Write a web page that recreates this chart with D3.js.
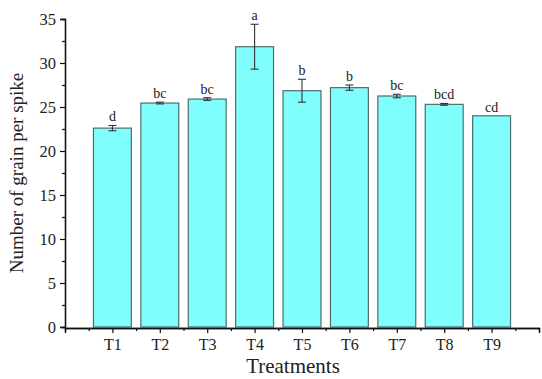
<!DOCTYPE html>
<html>
<head>
<meta charset="utf-8">
<script src="https://cdn.jsdelivr.net/npm/d3@7"></script>
<style>
  html, body { margin: 0; padding: 0; background: #fff; }
  svg { display: block; }
  text { font-family: "Liberation Serif", "Times New Roman", serif; fill: #222; }
</style>
</head>
<body>
<svg id="chart" width="542" height="379"></svg>
<script>
// Treatments and mean grain counts with their standard errors
const treatments = ["T1", "T2", "T3", "T4", "T5", "T6", "T7", "T8", "T9"];
const grainMeans = [22.6, 25.45, 25.9, 31.85, 26.85, 27.2, 26.25, 25.3, 24.0];
const grainErrors = [0.3, 0.1, 0.15, 2.55, 1.3, 0.3, 0.2, 0.1, 0.0];
const groupLetters = ["d", "bc", "bc", "a", "b", "b", "bc", "bcd", "cd"];
const yTicks = [0, 5, 10, 15, 20, 25, 30, 35];

const svg = d3.select("#chart");
const margin = { left: 65, right: 2, top: 19, bottom: 52 };

// positional scale: categories sit on integers 1..9 inside [0, 10]
const x = d3.scaleLinear().domain([0, 10]).range([margin.left, 539]);
const y = d3.scaleLinear().domain([0, 35]).range([327, margin.top]);
const step = x(1) - x(0);
const barW = step * 0.8;

// bars
svg.append("g").selectAll("rect")
  .data(treatments)
  .join("rect")
  .attr("x", (d, i) => x(i + 1) - barW / 2)
  .attr("width", barW)
  .attr("y", (d, i) => y(grainMeans[i]))
  .attr("height", (d, i) => y(0) - y(grainMeans[i]))
  .attr("fill", "#80FDFD")
  .attr("stroke", "#4d6e6e")
  .attr("stroke-width", 1.2);

// error bars
const eg = svg.append("g").attr("stroke", "#333").attr("stroke-width", 1.1);
treatments.forEach((t, i) => {
  const cx = x(i + 1), e = grainErrors[i];
  if (e <= 0) return;
  const top = y(grainMeans[i] + e), bot = y(grainMeans[i] - e);
  eg.append("line").attr("x1", cx).attr("x2", cx).attr("y1", top).attr("y2", bot);
  eg.append("line").attr("x1", cx - 4).attr("x2", cx + 4).attr("y1", top).attr("y2", top);
  eg.append("line").attr("x1", cx - 4).attr("x2", cx + 4).attr("y1", bot).attr("y2", bot);
});

// significance letters
svg.append("g").selectAll("text")
  .data(groupLetters)
  .join("text")
  .attr("x", (d, i) => x(i + 1))
  .attr("y", (d, i) => y(grainMeans[i] + grainErrors[i]) - 4)
  .attr("text-anchor", "middle")
  .attr("font-size", 14)
  .text(d => d);

// y axis with minor ticks
const yAxis = svg.append("g").attr("transform", `translate(${margin.left},0)`);
yAxis.call(d3.axisLeft(y).tickValues(yTicks).tickSize(5).tickPadding(4).tickFormat(d3.format("d")));
yAxis.append("g").call(d3.axisLeft(y).tickValues(yTicks.slice(0, -1).map(v => v + 2.5)).tickSize(3).tickFormat(""));
yAxis.selectAll(".domain").attr("stroke", "#111").attr("stroke-width", 1.3);
yAxis.selectAll(".tick line").attr("stroke", "#111").attr("stroke-width", 1.2);
yAxis.selectAll(".tick text").attr("font-size", 16.5).attr("font-family", "Liberation Serif, serif").attr("fill", "#222");

// x axis with major ticks at integers and minor ticks between
const xMajor = d3.range(0, 11);
const xAxis = svg.append("g").attr("transform", `translate(0,${y(0) + 1})`);
xAxis.call(d3.axisBottom(x).tickValues(xMajor).tickSize(5).tickPadding(6)
  .tickFormat(v => (v >= 1 && v <= 9) ? treatments[v - 1] : ""));
xAxis.append("g").call(d3.axisBottom(x).tickValues(d3.range(0.5, 10, 1)).tickSize(3).tickFormat(""));
xAxis.selectAll(".domain").attr("stroke", "#111").attr("stroke-width", 1.3);
xAxis.selectAll(".tick line").attr("stroke", "#111").attr("stroke-width", 1.2);
xAxis.selectAll(".tick text").attr("font-size", 16).attr("font-family", "Liberation Serif, serif").attr("fill", "#222");

// axis titles
svg.append("text")
  .attr("x", 293).attr("y", 373)
  .attr("text-anchor", "middle")
  .attr("font-size", 21)
  .text("Treatments");

svg.append("text")
  .attr("transform", `translate(23,${(y(0) + y(35)) / 2}) rotate(-90)`)
  .attr("text-anchor", "middle")
  .attr("font-size", 19)
  .text("Number of grain per spike");
</script>
</body>
</html>
